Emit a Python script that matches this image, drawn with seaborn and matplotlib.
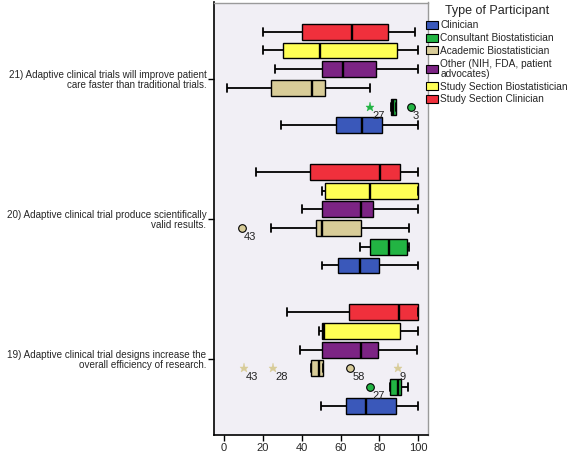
import numpy as np
import pandas as pd
import matplotlib
matplotlib.use("Agg")
import matplotlib.pyplot as plt
from matplotlib.patches import Patch
import seaborn as sns

# ---------------- data ----------------
questions = [
    "21) Adaptive clinical trials will improve patient\ncare faster than traditional trials.",
    "20) Adaptive clinical trial produce scientifically\nvalid results.",
    "19) Adaptive clinical trial designs increase the\noverall efficiency of research.",
]
participants = [
    "Clinician",
    "Consultant Biostatistician",
    "Academic Biostatistician",
    "Other (NIH, FDA, patient\nadvocates)",
    "Study Section Biostatistician",
    "Study Section Clinician",
]
colors = ["#3A58BA", "#22B443", "#D8CC98", "#7C2484", "#FFFF55", "#F0303C"]

# rows: questions (21, 20, 19); columns: participants (legend order)
whisker_low = [
    [29.5, 86.0, 1.4, 26.3, 20.0, 20.0],
    [50.5, 69.8, 24.4, 40.4, 50.5, 16.3],
    [50.0, 85.6, 44.8, 39.3, 49.1, 32.5],
]
q1 = [
    [57.7, 86.0, 24.4, 50.3, 30.4, 40.2],
    [58.6, 75.3, 47.1, 50.5, 52.2, 44.5],
    [62.9, 85.6, 44.8, 50.3, 50.3, 64.3],
]
median = [
    [71.0, 87.2, 45.4, 61.5, 49.6, 66.1],
    [70.1, 85.0, 50.3, 70.4, 75.3, 80.4],
    [73.2, 89.7, 49.1, 70.4, 51.7, 90.2],
]
q3 = [
    [81.3, 88.6, 52.2, 78.2, 89.3, 84.2],
    [79.7, 94.2, 70.3, 76.8, 100.0, 90.4],
    [88.3, 90.9, 51.2, 79.2, 90.4, 100.0],
]
whisker_high = [
    [100.0, 88.6, 75.4, 100.0, 100.0, 98.1],
    [100.0, 95.2, 95.2, 100.0, 100.0, 100.0],
    [100.0, 94.7, 51.2, 99.3, 100.0, 100.0],
]
# outliers: question index, participant index, value, case label, kind
outlier_q = [0, 0, 1, 2, 2, 2, 2, 2]
outlier_p = [1, 1, 2, 2, 2, 2, 2, 1]
outlier_val = [75.3, 96.2, 9.3, 10.3, 25.4, 65.1, 89.5, 75.3]
outlier_lab = ["27", "3", "43", "43", "28", "58", "9", "27"]
outlier_kind = ["star", "circle", "circle", "star", "star", "circle", "star", "circle"]
xticks = [0, 20, 40, 60, 80, 100]

# ---------------- build long table from five-number summaries ----------------
rows = []
for qi, q in enumerate(questions):
    for pi, p in enumerate(participants):
        for v in (whisker_low[qi][pi], q1[qi][pi], median[qi][pi],
                  q3[qi][pi], whisker_high[qi][pi]):
            rows.append({"question": q, "participant": p, "value": v})
df = pd.DataFrame(rows)

sns.set_style("white")
plt.rcParams["font.family"] = ["Liberation Sans", "DejaVu Sans"]

fig = plt.figure(figsize=(5.67, 4.54), dpi=100)
ax = fig.add_axes([214 / 567, 1 - 435 / 454, 214 / 567, 432.5 / 454])
ax.set_facecolor("#F1EFF5")

hue_order = participants[::-1]
palette = dict(zip(participants, colors))
width = 0.8
sns.boxplot(
    data=df, x="value", y="question", hue="participant",
    order=questions, hue_order=hue_order, palette=palette,
    orient="h", whis=np.inf, width=width, gap=0.15, saturation=1,
    linecolor="black", linewidth=1.0, showfliers=False,
    medianprops={"linewidth": 1.7, "color": "black"},
    whiskerprops={"linewidth": 1.3},
    capprops={"linewidth": 1.3},
    legend=False, ax=ax,
)

# outliers
n = len(participants)
for qi, pi, v, lab, kind in zip(outlier_q, outlier_p, outlier_val, outlier_lab, outlier_kind):
    j = hue_order.index(participants[pi])
    y = qi - width / 2 + width / n * (j + 0.5)
    col = colors[pi]
    if kind == "circle":
        ax.plot(v, y, marker="o", ms=5.5, mfc=col, mec="black", mew=0.8,
                linestyle="none", zorder=5)
    else:
        ax.plot(v, y, marker="*", ms=6.5, mfc=col, mec=col, mew=0.3,
                linestyle="none", zorder=5)
    ax.annotate(lab, (v, y), xytext=(2, -4), textcoords="offset pixels",
                ha="left", va="top", fontsize=8, color="#222222")

ax.set_xlim(-5.15, 105)
ax.set_ylim(2.542, -0.542)
ax.set_xticks(xticks)
ax.set_xticklabels([str(t) for t in xticks], fontsize=8)
ax.set_xlabel("")
ax.set_ylabel("")
ax.tick_params(axis="y", labelsize=7.1, length=4, width=1, pad=1.5, color="black",
               left=True)
ax.tick_params(axis="x", length=4, width=1, pad=2, color="black", bottom=True)
for lbl in ax.get_yticklabels():
    lbl.set_horizontalalignment("right")
    lbl.set_multialignment("right")
    lbl.set_linespacing(1.0)
for s in ["left", "bottom"]:
    ax.spines[s].set_color("black")
    ax.spines[s].set_linewidth(1.2)
for s in ["top", "right"]:
    ax.spines[s].set_color("#9A9A9A")
    ax.spines[s].set_linewidth(1.0)

handles = [Patch(facecolor=c, edgecolor="black", linewidth=0.8) for c in colors]
leg = fig.legend(
    handles, participants, title="Type of Participant",
    loc="upper left", bbox_to_anchor=(426 / 567, 0.988),
    frameon=False, fontsize=7.3, title_fontsize=9,
    handlelength=1.2, handleheight=0.85, handletextpad=0.2,
    labelspacing=0.28, borderpad=0.0, borderaxespad=0.0,
)
for t in leg.get_texts():
    t.set_linespacing(1.0)

fig.savefig("out.png", dpi=100)
